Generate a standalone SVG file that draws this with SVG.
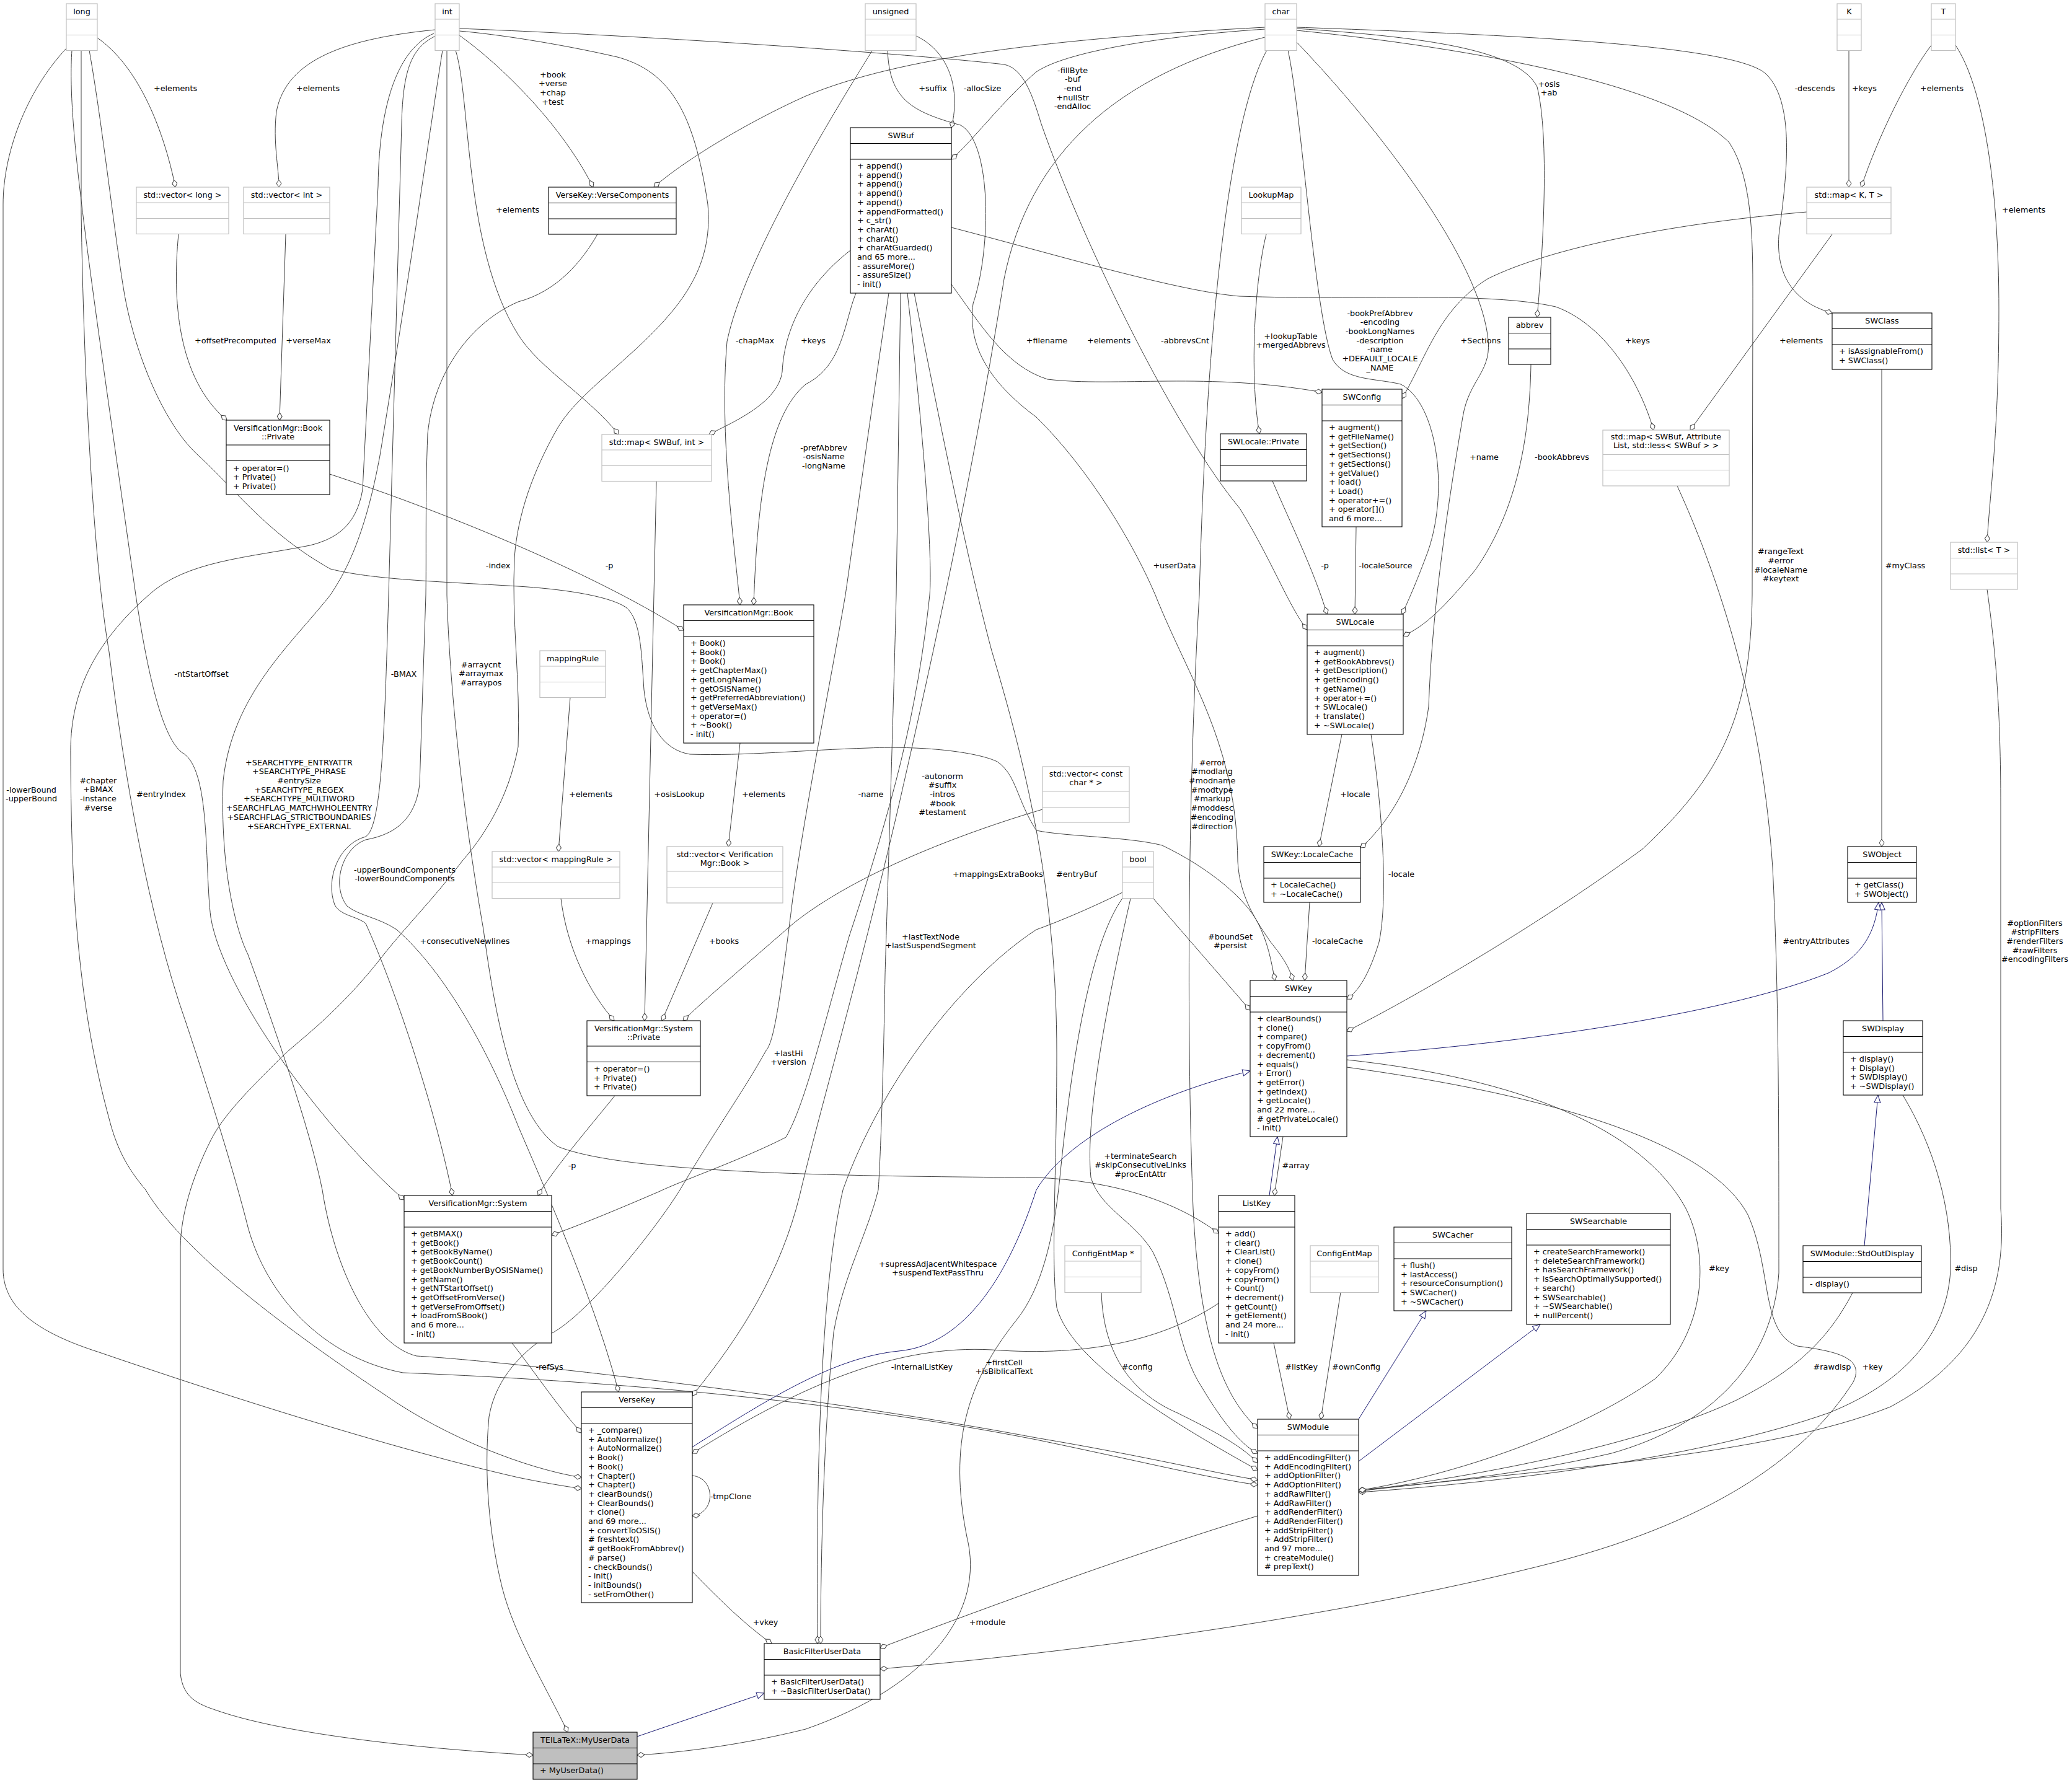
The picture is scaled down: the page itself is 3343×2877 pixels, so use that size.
<svg xmlns="http://www.w3.org/2000/svg" width="3343" height="2877" viewBox="0 0 3343 2877">
<defs>
<marker id="d" viewBox="0 0 14 10" refX="13" refY="5" markerWidth="14" markerHeight="10" markerUnits="userSpaceOnUse" orient="auto"><path d="M1,5 L7,1 L13,5 L7,9 Z" fill="#fff" stroke="#404040"/></marker>
<marker id="t" viewBox="0 0 14 12" refX="13" refY="6" markerWidth="14" markerHeight="12" markerUnits="userSpaceOnUse" orient="auto"><path d="M1,1 L13,6 L1,11 Z" fill="#fff" stroke="#191970"/></marker>
</defs>
<style>
text{font-family:"DejaVu Sans","Liberation Sans",sans-serif;font-size:12.8px;fill:#000}
.h{text-anchor:middle}
.g rect{fill:#fff;stroke:#bfbfbf;stroke-width:1.2}
.g path{fill:none;stroke:#bfbfbf;stroke-width:1.2}
.n rect{fill:#fff;stroke:#000;stroke-width:1.1}
.n path{fill:none;stroke:#000;stroke-width:1.1}
.f rect{fill:#bfbfbf}
#edges path{fill:none;stroke:#404040;stroke-width:1;marker-end:url(#d)}
#edges path.i{stroke:#191970;marker-end:url(#t)}
#labels text{text-anchor:middle}
</style>
<rect x="0" y="0" width="3343" height="2877" fill="#fff"/>
<g id="edges">
<path d="M157,61 C220,105 262,200 283,302"/>
<path d="M702,48 C560,62 462,95 446,180 C440,230 450,270 450,302"/>
<path d="M288,378 C278,480 285,610 366,678"/>
<path d="M461,378 L451,678"/>
<path d="M741,57 C795,95 900,190 957,302"/>
<path d="M2041,44 C1700,62 1450,92 1300,155 C1200,200 1100,262 1055,302"/>
<path d="M735,81 C760,160 748,400 836,540 C870,595 950,640 998,701"/>
<path d="M1372,404 C1310,452 1266,520 1262,600 C1255,650 1185,680 1144,701"/>
<path d="M1478,58 C1525,80 1552,135 1535,206"/>
<path d="M2041,47 C1900,56 1725,80 1672,116 C1620,160 1565,232 1535,257"/>
<path d="M1407,82 C1340,190 1200,420 1173,551 C1160,700 1185,880 1194,976"/>
<path d="M1381,473 C1362,520 1360,590 1300,620 C1240,670 1222,800 1216,976"/>
<path d="M532,765 C700,820 950,920 1103,1017"/>
<path d="M920,1125 L901,1374"/>
<path d="M1194,1199 L1175,1366"/>
<path d="M905,1450 C915,1530 950,1600 991,1647"/>
<path d="M1059,776 L1040,1647"/>
<path d="M1150,1457 L1068,1647"/>
<path d="M1682,1306 C1550,1345 1380,1410 1280,1490 C1200,1560 1140,1610 1102,1647"/>
<path d="M992,1768 C950,1820 890,1890 868,1929"/>
<path d="M116,81 C108,200 140,400 219,960 C240,1100 265,1200 298,1217 C340,1250 330,1400 340,1480 C360,1600 520,1820 652,1936"/>
<path d="M705,57 C665,75 650,110 648,200 L627,960 C620,1200 615,1335 590,1350 C545,1362 525,1420 540,1460 C550,1478 575,1478 590,1490 C640,1600 705,1800 730,1929"/>
<path d="M721,81 L721,960 C725,1100 745,1300 780,1500 C800,1650 830,1800 900,1850 C1000,1890 1300,1898 1672,1900 C1800,1905 1900,1940 1966,1990"/>
<path d="M700,54 C650,75 612,150 610,300 L585,790 C575,850 540,870 500,880 C400,900 300,905 240,960 C150,1040 112,1120 114,1220 C115,1400 120,1600 176,1805 C190,1860 210,1890 235,1920 C300,2030 500,2170 620,2250 C720,2320 850,2370 938,2384"/>
<path d="M107,78 C40,150 5,250 5,330 L5,2048 C5,2110 60,2150 160,2182 C300,2230 600,2330 836,2384 C880,2393 910,2398 938,2402"/>
<path d="M131,81 L131,343 C135,600 150,900 176,1052 C200,1250 240,1480 300,1650 C340,1770 380,1900 400,1980 C430,2090 520,2190 650,2215 C900,2225 1300,2250 1672,2323 C1850,2360 1950,2385 2029,2396"/>
<path d="M714,81 C695,200 660,450 613,735 C590,860 560,920 533,960 C470,1040 375,1120 360,1260 C355,1400 380,1500 400,1540 C440,1650 500,1820 520,1920 C540,2050 600,2170 672,2188 C800,2195 1300,2250 1672,2320 C1850,2350 1950,2375 2029,2388"/>
<path d="M741,46 C1100,60 1500,90 1620,104 C1650,110 1665,150 1680,200 C1750,400 1900,700 2000,820 C2050,900 2080,980 2109,1016"/>
<path d="M2044,81 C2000,160 1950,400 1935,960 C1915,1300 1915,1700 1925,1950 C1935,2150 1970,2250 2029,2305"/>
<path d="M1432,81 C1435,160 1470,180 1550,202 C1600,230 1600,400 1570,490 C1560,560 1600,620 1672,673 C1760,760 1830,880 1864,960 C1920,1100 1995,1200 1997,1390 C2000,1450 2030,1490 2050,1520 C2070,1545 2080,1560 2086,1582"/>
<path d="M1535,459 C1580,520 1620,590 1690,612 C1800,625 1950,600 2133,633"/>
<path d="M1535,367 C1700,410 1900,470 2000,478 C2200,485 2400,470 2510,495 C2580,520 2640,600 2668,694"/>
<path d="M2915,342 C2700,360 2500,400 2400,450 C2320,500 2300,580 2262,643"/>
<path d="M2956,378 L2727,694"/>
<path d="M2983,81 L2983,302"/>
<path d="M3116,73 C3080,120 3030,220 3003,302"/>
<path d="M3155,73 C3200,140 3225,300 3225,500 C3225,700 3210,800 3206,875"/>
<path d="M2092,44 C2400,55 2800,70 2850,120 C2900,170 2880,300 2870,380 C2865,450 2900,490 2956,505"/>
<path d="M2092,46 C2300,60 2450,80 2480,140 C2500,220 2490,400 2480,512"/>
<path d="M2092,49 C2400,80 2700,140 2790,230 C2830,290 2828,400 2828,500 L2827,960 C2825,1150 2780,1250 2650,1370 C2500,1480 2300,1600 2173,1664"/>
<path d="M2078,81 C2100,180 2120,500 2150,580 C2170,615 2220,610 2260,620 C2320,650 2340,800 2300,900 C2285,940 2272,970 2262,991"/>
<path d="M2091,67 C2200,180 2380,400 2400,540 C2410,600 2370,610 2360,673 C2330,850 2310,1000 2305,1140 C2290,1250 2240,1330 2195,1368"/>
<path d="M2470,588 C2468,700 2450,820 2380,920 C2330,980 2300,1010 2264,1026"/>
<path d="M2043,378 C2025,450 2015,600 2032,700"/>
<path d="M2053,776 C2080,840 2120,920 2141,991"/>
<path d="M2188,850 L2186,991"/>
<path d="M2165,1185 L2128,1366"/>
<path d="M2212,1185 C2230,1300 2240,1450 2225,1520 C2210,1570 2192,1600 2173,1612"/>
<path d="M2113,1456 L2105,1582"/>
<path d="M1861,1450 L2017,1630"/>
<path d="M3036,596 L3036,1366"/>
<path d="M3206,951 C3220,1050 3228,1150 3228,1300 L3228,1950 C3240,2100 3180,2200 3050,2270 C2850,2350 2500,2370 2192,2406"/>
<path d="M2706,784 C2750,880 2840,1100 2860,1400 C2870,1600 2870,1800 2870,2054 C2860,2200 2760,2300 2600,2345 C2450,2380 2300,2395 2192,2404"/>
<path d="M3070,1767 C3120,1850 3150,1950 3147,2050 C3140,2170 3050,2240 2950,2280 C2750,2350 2450,2390 2192,2408"/>
<path d="M2989,2086 C2950,2160 2900,2210 2800,2260 C2650,2330 2400,2380 2192,2406"/>
<path class="i" d="M3008,2010 L3030,1767"/>
<path class="i" d="M3038,1647 L3036,1456"/>
<path class="i" d="M2173,1704 C2500,1680 2800,1630 2950,1570 C3010,1540 3025,1500 3031,1456"/>
<path d="M2173,1710 C2450,1740 2650,1820 2720,1950 C2760,2030 2750,2150 2670,2225 C2550,2310 2350,2380 2192,2405"/>
<path d="M2173,1722 C2450,1760 2750,1830 2820,1960 C2860,2050 2840,2150 2900,2172 C2960,2180 3010,2190 2990,2230 C2920,2340 2780,2450 2508,2521 C2200,2600 1800,2660 1420,2693"/>
<path class="i" d="M2048,1929 L2061,1834"/>
<path d="M2070,1834 L2056,1929"/>
<path class="i" d="M1117,2335 C1250,2250 1350,2190 1450,2180 C1560,2170 1630,2050 1672,1920 C1720,1840 1850,1770 2017,1728"/>
<path d="M1966,2103 C1880,2160 1760,2190 1600,2178 C1450,2170 1300,2230 1117,2345"/>
<path d="M2055,2167 L2081,2290"/>
<path d="M1777,2085 C1780,2190 1830,2250 1900,2280 C1950,2305 2000,2330 2029,2360"/>
<path d="M2163,2085 L2131,2290"/>
<path class="i" d="M2192,2290 L2301,2115"/>
<path class="i" d="M2192,2358 L2485,2137"/>
<path d="M1824,1450 C1790,1600 1750,1800 1760,1900 C1775,1950 1830,1970 1860,2020 C1900,2100 1900,2180 1940,2240 C1970,2290 2000,2330 2029,2345"/>
<path d="M1811,1440 C1750,1470 1700,1490 1672,1500 C1550,1580 1420,1750 1360,1920 C1330,2050 1316,2300 1319,2652"/>
<path d="M1812,1448 C1760,1520 1730,1700 1710,1900 C1700,2000 1680,2080 1640,2130 C1560,2230 1530,2330 1560,2480 C1590,2600 1500,2720 1300,2790 C1200,2815 1100,2828 1028,2832"/>
<path d="M2029,2446 C1850,2500 1600,2590 1420,2659"/>
<path d="M1117,2536 C1160,2580 1200,2620 1245,2652"/>
<path d="M1117,2381 C1155,2385 1155,2442 1117,2446"/>
<path class="i" d="M1028,2802 L1233,2732"/>
<path d="M826,2167 C860,2210 900,2270 938,2312"/>
<path d="M964,378 C940,420 900,470 836,487 C760,520 700,600 690,700 C686,800 688,900 687,960 L677,1266 C670,1320 640,1346 590,1355 C550,1370 535,1430 560,1462 C580,1478 610,1480 640,1500 C720,1570 790,1700 836,1817 C880,1920 960,2100 998,2246"/>
<path d="M2041,60 C1800,120 1660,250 1620,450 C1580,700 1530,950 1450,1300 C1380,1600 1320,1800 1290,1930 C1260,2050 1200,2150 1117,2252"/>
<path d="M1475,473 C1520,700 1560,900 1600,1050 C1660,1250 1705,1450 1705,1700 C1705,1900 1695,2030 1705,2110 C1730,2200 1900,2300 2029,2372"/>
<path d="M1464,473 C1490,700 1505,900 1500,960 C1480,1150 1440,1300 1370,1511 C1330,1650 1300,1780 1268,1835 C1200,1870 1100,1905 1065,1922 C1000,1950 940,1975 890,1993"/>
<path d="M1453,473 L1446,960 C1440,1200 1430,1500 1428,1572 C1425,1750 1420,1880 1417,1920 C1400,1990 1360,2060 1345,2150 C1330,2300 1324,2500 1324,2652"/>
<path d="M1434,473 C1400,700 1380,850 1364,960 C1340,1100 1300,1300 1279,1450 C1260,1600 1250,1680 1236,1695 C1200,1760 1150,1830 1097,1920 C1060,1980 950,2120 889,2152 C850,2175 800,2220 789,2286 C780,2380 790,2480 810,2561 C830,2640 880,2720 916,2795"/>
<path d="M741,50 C800,55 900,70 996,92 C1080,115 1120,180 1142,330 C1150,420 1110,480 1050,540 C990,600 930,640 900,690 C860,760 835,830 830,900 C825,1000 840,1100 836,1205 C820,1290 780,1350 746,1389 C700,1450 650,1500 613,1548 C540,1640 480,1680 453,1707 C400,1760 360,1800 340,1840 C310,1900 292,1960 291,2011 L291,2700 C295,2740 320,2750 350,2760 C450,2795 650,2820 860,2832"/>
<path d="M144,81 C165,200 185,380 200,470 C215,560 260,680 320,735 C380,790 430,860 533,918 C600,935 700,938 836,946 C900,950 980,960 1010,980 C1035,1000 1035,1060 1039,1113 C1045,1170 1070,1210 1113,1217 C1200,1220 1300,1210 1400,1207 C1500,1203 1580,1215 1609,1229 C1640,1250 1640,1290 1672,1340 C1720,1350 1820,1350 1875,1364 C1950,1400 2010,1450 2030,1490 C2045,1520 2050,1545 2057,1582"/>
</g>
<g id="labels">
<text x="283" y="146.6">+elements</text>
<text x="513" y="146.6">+elements</text>
<text x="892" y="124.6">+book<tspan x="892" dy="14.7">+verse</tspan><tspan x="892" dy="14.7">+chap</tspan><tspan x="892" dy="14.7">+test</tspan></text>
<text x="1505" y="146.6">+suffix</text>
<text x="1585" y="146.6">-allocSize</text>
<text x="1730.6" y="117.6">-fillByte<tspan x="1730.6" dy="14.7">-buf</tspan><tspan x="1730.6" dy="14.7">-end</tspan><tspan x="1730.6" dy="14.7">+nullStr</tspan><tspan x="1730.6" dy="14.7">-endAlloc</tspan></text>
<text x="2928" y="146.6">-descends</text>
<text x="3008" y="146.6">+keys</text>
<text x="3133" y="146.6">+elements</text>
<text x="2499" y="139.6">+osis<tspan x="2499" dy="14.7">+ab</tspan></text>
<text x="835" y="342.6">+elements</text>
<text x="3265" y="342.6">+elements</text>
<text x="380" y="553.6">+offsetPrecomputed</text>
<text x="497.5" y="553.6">+verseMax</text>
<text x="1218" y="553.6">-chapMax</text>
<text x="1312" y="553.6">+keys</text>
<text x="1689" y="553.6">+filename</text>
<text x="1789" y="553.6">+elements</text>
<text x="1912" y="553.6">-abbrevsCnt</text>
<text x="2082.5" y="546.6">+lookupTable<tspan x="2082.5" dy="14.7">+mergedAbbrevs</tspan></text>
<text x="2226.5" y="509.6">-bookPrefAbbrev<tspan x="2226.5" dy="14.7">-encoding</tspan><tspan x="2226.5" dy="14.7">-bookLongNames</tspan><tspan x="2226.5" dy="14.7">-description</tspan><tspan x="2226.5" dy="14.7">-name</tspan><tspan x="2226.5" dy="14.7">+DEFAULT_LOCALE</tspan><tspan x="2226.5" dy="14.7">_NAME</tspan></text>
<text x="2389" y="553.6">+Sections</text>
<text x="2642" y="553.6">+keys</text>
<text x="2906" y="553.6">+elements</text>
<text x="1329" y="726.6">-prefAbbrev<tspan x="1329" dy="14.7">-osisName</tspan><tspan x="1329" dy="14.7">-longName</tspan></text>
<text x="2394.5" y="741.6">+name</text>
<text x="2520" y="741.6">-bookAbbrevs</text>
<text x="2873" y="894.2">#rangeText<tspan x="2873" dy="14.7">#error</tspan><tspan x="2873" dy="14.7">#localeName</tspan><tspan x="2873" dy="14.7">#keytext</tspan></text>
<text x="803.6" y="916.6">-index</text>
<text x="983" y="916.6">-p</text>
<text x="1895" y="916.6">+userData</text>
<text x="2137.5" y="916.6">-p</text>
<text x="2235.5" y="916.6">-localeSource</text>
<text x="3074" y="916.6">#myClass</text>
<text x="325" y="1091.6">-ntStartOffset</text>
<text x="651.5" y="1091.6">-BMAX</text>
<text x="776" y="1076.6">#arraycnt<tspan x="776" dy="14.7">#arraymax</tspan><tspan x="776" dy="14.7">#arraypos</tspan></text>
<text x="1955.6" y="1234.6">#error<tspan x="1955.6" dy="14.7">#modlang</tspan><tspan x="1955.6" dy="14.7">#modname</tspan><tspan x="1955.6" dy="14.7">#modtype</tspan><tspan x="1955.6" dy="14.7">#markup</tspan><tspan x="1955.6" dy="14.7">#moddesc</tspan><tspan x="1955.6" dy="14.7">#encoding</tspan><tspan x="1955.6" dy="14.7">#direction</tspan></text>
<text x="482.5" y="1234.6">+SEARCHTYPE_ENTRYATTR<tspan x="482.5" dy="14.7">+SEARCHTYPE_PHRASE</tspan><tspan x="482.5" dy="14.7">#entrySize</tspan><tspan x="482.5" dy="14.7">+SEARCHTYPE_REGEX</tspan><tspan x="482.5" dy="14.7">+SEARCHTYPE_MULTIWORD</tspan><tspan x="482.5" dy="14.7">+SEARCHFLAG_MATCHWHOLEENTRY</tspan><tspan x="482.5" dy="14.7">+SEARCHFLAG_STRICTBOUNDARIES</tspan><tspan x="482.5" dy="14.7">+SEARCHTYPE_EXTERNAL</tspan></text>
<text x="1520.6" y="1256.6">-autonorm<tspan x="1520.6" dy="14.7">#suffix</tspan><tspan x="1520.6" dy="14.7">-intros</tspan><tspan x="1520.6" dy="14.7">#book</tspan><tspan x="1520.6" dy="14.7">#testament</tspan></text>
<text x="50.6" y="1278.6">-lowerBound<tspan x="50.6" dy="14.7">-upperBound</tspan></text>
<text x="158.4" y="1263.6">#chapter<tspan x="158.4" dy="14.7">+BMAX</tspan><tspan x="158.4" dy="14.7">-instance</tspan><tspan x="158.4" dy="14.7">#verse</tspan></text>
<text x="260" y="1285.6">#entryIndex</text>
<text x="953" y="1285.6">+elements</text>
<text x="1096" y="1285.6">+osisLookup</text>
<text x="1232" y="1285.6">+elements</text>
<text x="1405" y="1285.6">-name</text>
<text x="2186.5" y="1285.6">+locale</text>
<text x="653" y="1407.6">-upperBoundComponents<tspan x="653" dy="14.7">-lowerBoundComponents</tspan></text>
<text x="1610" y="1414.6">+mappingsExtraBooks</text>
<text x="1737" y="1414.6">#entryBuf</text>
<text x="2261" y="1414.6">-locale</text>
<text x="981" y="1522.6">+mappings</text>
<text x="1168" y="1522.6">+books</text>
<text x="1501.5" y="1515.6">+lastTextNode<tspan x="1501.5" dy="14.7">+lastSuspendSegment</tspan></text>
<text x="1985" y="1515.6">#boundSet<tspan x="1985" dy="14.7">#persist</tspan></text>
<text x="2158" y="1522.6">-localeCache</text>
<text x="2930" y="1522.6">#entryAttributes</text>
<text x="750" y="1522.6">+consecutiveNewlines</text>
<text x="3283" y="1493.6">#optionFilters<tspan x="3283" dy="14.7">#stripFilters</tspan><tspan x="3283" dy="14.7">#renderFilters</tspan><tspan x="3283" dy="14.7">#rawFilters</tspan><tspan x="3283" dy="14.7">#encodingFilters</tspan></text>
<text x="1272" y="1703.6">+lastHi<tspan x="1272" dy="14.7">+version</tspan></text>
<text x="1840" y="1869.6">+terminateSearch<tspan x="1840" dy="14.7">#skipConsecutiveLinks</tspan><tspan x="1840" dy="14.7">#procEntAttr</tspan></text>
<text x="923" y="1884.6">-p</text>
<text x="2090.6" y="1884.6">#array</text>
<text x="1513" y="2043.6">+supressAdjacentWhitespace<tspan x="1513" dy="14.7">+suspendTextPassThru</tspan></text>
<text x="2773.5" y="2050.6">#key</text>
<text x="3172" y="2050.6">#disp</text>
<text x="886.6" y="2209.6">-refSys</text>
<text x="1487.5" y="2209.6">-internalListKey</text>
<text x="1620" y="2202.6">+firstCell<tspan x="1620" dy="14.7">+isBiblicalText</tspan></text>
<text x="1834.6" y="2209.6">#config</text>
<text x="2099.6" y="2209.6">#listKey</text>
<text x="2188" y="2209.6">#ownConfig</text>
<text x="2956" y="2209.6">#rawdisp</text>
<text x="3021" y="2209.6">+key</text>
<text x="1179" y="2418.6">-tmpClone</text>
<text x="1235" y="2621.6">+vkey</text>
<text x="1593" y="2621.6">+module</text>
</g>
<g id="n_long" class="g"><rect x="107" y="6" width="50" height="75.5"/><path d="M107,31H157M107,56.5H157"/><text class="h" x="132" y="23.3">long</text></g>
<g id="n_int" class="g"><rect x="702" y="6" width="39" height="75.5"/><path d="M702,31H741M702,56.5H741"/><text class="h" x="721.5" y="23.3">int</text></g>
<g id="n_unsigned" class="g"><rect x="1396" y="6" width="82" height="75.5"/><path d="M1396,31H1478M1396,56.5H1478"/><text class="h" x="1437" y="23.3">unsigned</text></g>
<g id="n_char" class="g"><rect x="2041" y="6" width="51" height="75.5"/><path d="M2041,31H2092M2041,56.5H2092"/><text class="h" x="2066.5" y="23.3">char</text></g>
<g id="n_K" class="g"><rect x="2964" y="6" width="39" height="75.5"/><path d="M2964,31H3003M2964,56.5H3003"/><text class="h" x="2983.5" y="23.3">K</text></g>
<g id="n_T" class="g"><rect x="3116" y="6" width="39" height="75.5"/><path d="M3116,31H3155M3116,56.5H3155"/><text class="h" x="3135.5" y="23.3">T</text></g>
<g id="n_vector_long" class="g"><rect x="220" y="302" width="149" height="75.5"/><path d="M220,327H369M220,352.5H369"/><text class="h" x="294.5" y="319.3">std::vector&lt; long &gt;</text></g>
<g id="n_vector_int" class="g"><rect x="393" y="302" width="139" height="75.5"/><path d="M393,327H532M393,352.5H532"/><text class="h" x="462.5" y="319.3">std::vector&lt; int &gt;</text></g>
<g id="n_LookupMap" class="g"><rect x="2003" y="302" width="96" height="75.5"/><path d="M2003,327H2099M2003,352.5H2099"/><text class="h" x="2051" y="319.3">LookupMap</text></g>
<g id="n_map_K_T" class="g"><rect x="2915" y="302" width="136" height="75.5"/><path d="M2915,327H3051M2915,352.5H3051"/><text class="h" x="2983" y="319.3">std::map&lt; K, T &gt;</text></g>
<g id="n_map_SWBuf_int" class="g"><rect x="971" y="701" width="177" height="75.5"/><path d="M971,726H1148M971,751.5H1148"/><text class="h" x="1059.5" y="718.3">std::map&lt; SWBuf, int &gt;</text></g>
<g id="n_mappingRule" class="g"><rect x="871" y="1050" width="106" height="75.5"/><path d="M871,1075H977M871,1100.5H977"/><text class="h" x="924" y="1067.3">mappingRule</text></g>
<g id="n_vector_mappingRule" class="g"><rect x="794" y="1374" width="206" height="75.5"/><path d="M794,1399H1000M794,1424.5H1000"/><text class="h" x="897" y="1391.3">std::vector&lt; mappingRule &gt;</text></g>
<g id="n_bool" class="g"><rect x="1811" y="1374" width="50" height="75.5"/><path d="M1811,1399H1861M1811,1424.5H1861"/><text class="h" x="1836" y="1391.3">bool</text></g>
<g id="n_list_T" class="g"><rect x="3147" y="875" width="108" height="76"/><path d="M3147,900.5H3255M3147,926H3255"/><text class="h" x="3201" y="892.3">std::list&lt; T &gt;</text></g>
<g id="n_ConfigEntMap_ptr" class="g"><rect x="1718" y="2010" width="123" height="75.5"/><path d="M1718,2035H1841M1718,2060.5H1841"/><text class="h" x="1779.5" y="2027.3">ConfigEntMap *</text></g>
<g id="n_ConfigEntMap" class="g"><rect x="2114" y="2010" width="110" height="75.5"/><path d="M2114,2035H2224M2114,2060.5H2224"/><text class="h" x="2169" y="2027.3">ConfigEntMap</text></g>
<g id="n_map_SWBuf_AttributeList" class="g"><rect x="2586" y="694" width="204" height="90"/><path d="M2586,733.5H2790M2586,758.5H2790"/><text class="h" x="2688" y="708.6">std::map&lt; SWBuf, Attribute<tspan x="2688" dy="14.7">List, std::less&lt; SWBuf &gt; &gt;</tspan></text></g>
<g id="n_vector_const_char" class="g"><rect x="1682" y="1237" width="140" height="90"/><path d="M1682,1277H1822M1682,1302.5H1822"/><text class="h" x="1752" y="1252.6">std::vector&lt; const<tspan x="1752" dy="14.7">char * &gt;</tspan></text></g>
<g id="n_vector_Book" class="g"><rect x="1076" y="1366" width="187" height="91"/><path d="M1076,1406H1263M1076,1431.5H1263"/><text class="h" x="1169.5" y="1382.6">std::vector&lt; Verification<tspan x="1169.5" dy="14.7">Mgr::Book &gt;</tspan></text></g>
<g id="n_VerseComponents" class="n"><rect x="885" y="302" width="206" height="76"/><path d="M885,327.5H1091M885,353H1091"/><text class="h" x="988" y="319.3">VerseKey::VerseComponents</text></g>
<g id="n_abbrev" class="n"><rect x="2434" y="512" width="68" height="76"/><path d="M2434,537.5H2502M2434,563H2502"/><text class="h" x="2468" y="529.3">abbrev</text></g>
<g id="n_SWLocale_Private" class="n"><rect x="1969" y="700" width="139" height="76"/><path d="M1969,725.5H2108M1969,751H2108"/><text class="h" x="2038.5" y="717.3">SWLocale::Private</text></g>
<g id="n_SWBuf" class="n"><rect x="1372" y="206" width="163" height="267"/><path d="M1372,231.5H1535M1372,257H1535"/><text class="h" x="1453.5" y="223.3">SWBuf</text><text x="1383" y="272">+ append()<tspan x="1383" dy="14.7">+ append()</tspan><tspan x="1383" dy="14.7">+ append()</tspan><tspan x="1383" dy="14.7">+ append()</tspan><tspan x="1383" dy="14.7">+ append()</tspan><tspan x="1383" dy="14.7">+ appendFormatted()</tspan><tspan x="1383" dy="14.7">+ c_str()</tspan><tspan x="1383" dy="14.7">+ charAt()</tspan><tspan x="1383" dy="14.7">+ charAt()</tspan><tspan x="1383" dy="14.7">+ charAtGuarded()</tspan><tspan x="1383" dy="14.7">and 65 more...</tspan><tspan x="1383" dy="14.7">- assureMore()</tspan><tspan x="1383" dy="14.7">- assureSize()</tspan><tspan x="1383" dy="14.7">- init()</tspan></text></g>
<g id="n_SWClass" class="n"><rect x="2956" y="505" width="161" height="91"/><path d="M2956,530.5H3117M2956,556H3117"/><text class="h" x="3036.5" y="522.3">SWClass</text><text x="2967" y="571">+ isAssignableFrom()<tspan x="2967" dy="14.7">+ SWClass()</tspan></text></g>
<g id="n_SWConfig" class="n"><rect x="2133" y="628" width="129" height="222"/><path d="M2133,653.5H2262M2133,679H2262"/><text class="h" x="2197.5" y="645.3">SWConfig</text><text x="2144" y="694">+ augment()<tspan x="2144" dy="14.7">+ getFileName()</tspan><tspan x="2144" dy="14.7">+ getSection()</tspan><tspan x="2144" dy="14.7">+ getSections()</tspan><tspan x="2144" dy="14.7">+ getSections()</tspan><tspan x="2144" dy="14.7">+ getValue()</tspan><tspan x="2144" dy="14.7">+ load()</tspan><tspan x="2144" dy="14.7">+ Load()</tspan><tspan x="2144" dy="14.7">+ operator+=()</tspan><tspan x="2144" dy="14.7">+ operator[]()</tspan><tspan x="2144" dy="14.7">and 6 more...</tspan></text></g>
<g id="n_Book_Private" class="n"><rect x="365" y="678" width="167" height="120"/><path d="M365,718H532M365,743.5H532"/><text class="h" x="448.5" y="694.6">VersificationMgr::Book<tspan x="448.5" dy="14.7">::Private</tspan></text><text x="376" y="759.5">+ operator=()<tspan x="376" dy="14.7">+ Private()</tspan><tspan x="376" dy="14.7">+ Private()</tspan></text></g>
<g id="n_Book" class="n"><rect x="1103" y="976" width="210" height="223"/><path d="M1103,1001.5H1313M1103,1027H1313"/><text class="h" x="1208" y="993.3">VersificationMgr::Book</text><text x="1114" y="1042">+ Book()<tspan x="1114" dy="14.7">+ Book()</tspan><tspan x="1114" dy="14.7">+ Book()</tspan><tspan x="1114" dy="14.7">+ getChapterMax()</tspan><tspan x="1114" dy="14.7">+ getLongName()</tspan><tspan x="1114" dy="14.7">+ getOSISName()</tspan><tspan x="1114" dy="14.7">+ getPreferredAbbreviation()</tspan><tspan x="1114" dy="14.7">+ getVerseMax()</tspan><tspan x="1114" dy="14.7">+ operator=()</tspan><tspan x="1114" dy="14.7">+ ~Book()</tspan><tspan x="1114" dy="14.7">- init()</tspan></text></g>
<g id="n_System_Private" class="n"><rect x="947" y="1647" width="183" height="121"/><path d="M947,1688H1130M947,1713.5H1130"/><text class="h" x="1038.5" y="1663.6">VersificationMgr::System<tspan x="1038.5" dy="14.7">::Private</tspan></text><text x="958" y="1729">+ operator=()<tspan x="958" dy="14.7">+ Private()</tspan><tspan x="958" dy="14.7">+ Private()</tspan></text></g>
<g id="n_SWLocale" class="n"><rect x="2109" y="991" width="155" height="194"/><path d="M2109,1016.5H2264M2109,1042H2264"/><text class="h" x="2186.5" y="1008.3">SWLocale</text><text x="2120" y="1057">+ augment()<tspan x="2120" dy="14.7">+ getBookAbbrevs()</tspan><tspan x="2120" dy="14.7">+ getDescription()</tspan><tspan x="2120" dy="14.7">+ getEncoding()</tspan><tspan x="2120" dy="14.7">+ getName()</tspan><tspan x="2120" dy="14.7">+ operator+=()</tspan><tspan x="2120" dy="14.7">+ SWLocale()</tspan><tspan x="2120" dy="14.7">+ translate()</tspan><tspan x="2120" dy="14.7">+ ~SWLocale()</tspan></text></g>
<g id="n_LocaleCache" class="n"><rect x="2039" y="1366" width="156" height="90"/><path d="M2039,1391.5H2195M2039,1417H2195"/><text class="h" x="2117" y="1383.3">SWKey::LocaleCache</text><text x="2050" y="1432">+ LocaleCache()<tspan x="2050" dy="14.7">+ ~LocaleCache()</tspan></text></g>
<g id="n_SWObject" class="n"><rect x="2981" y="1366" width="111" height="90"/><path d="M2981,1391.5H3092M2981,1417H3092"/><text class="h" x="3036.5" y="1383.3">SWObject</text><text x="2992" y="1432">+ getClass()<tspan x="2992" dy="14.7">+ SWObject()</tspan></text></g>
<g id="n_SWKey" class="n"><rect x="2017" y="1582" width="156" height="252"/><path d="M2017,1607.5H2173M2017,1633H2173"/><text class="h" x="2095" y="1599.3">SWKey</text><text x="2028" y="1648">+ clearBounds()<tspan x="2028" dy="14.7">+ clone()</tspan><tspan x="2028" dy="14.7">+ compare()</tspan><tspan x="2028" dy="14.7">+ copyFrom()</tspan><tspan x="2028" dy="14.7">+ decrement()</tspan><tspan x="2028" dy="14.7">+ equals()</tspan><tspan x="2028" dy="14.7">+ Error()</tspan><tspan x="2028" dy="14.7">+ getError()</tspan><tspan x="2028" dy="14.7">+ getIndex()</tspan><tspan x="2028" dy="14.7">+ getLocale()</tspan><tspan x="2028" dy="14.7">and 22 more...</tspan><tspan x="2028" dy="14.7"># getPrivateLocale()</tspan><tspan x="2028" dy="14.7">- init()</tspan></text></g>
<g id="n_SWDisplay" class="n"><rect x="2974" y="1647" width="128" height="120"/><path d="M2974,1672.5H3102M2974,1698H3102"/><text class="h" x="3038" y="1664.3">SWDisplay</text><text x="2985" y="1713">+ display()<tspan x="2985" dy="14.7">+ Display()</tspan><tspan x="2985" dy="14.7">+ SWDisplay()</tspan><tspan x="2985" dy="14.7">+ ~SWDisplay()</tspan></text></g>
<g id="n_System" class="n"><rect x="652" y="1929" width="238" height="238"/><path d="M652,1954.5H890M652,1980H890"/><text class="h" x="771" y="1946.3">VersificationMgr::System</text><text x="663" y="1995">+ getBMAX()<tspan x="663" dy="14.7">+ getBook()</tspan><tspan x="663" dy="14.7">+ getBookByName()</tspan><tspan x="663" dy="14.7">+ getBookCount()</tspan><tspan x="663" dy="14.7">+ getBookNumberByOSISName()</tspan><tspan x="663" dy="14.7">+ getName()</tspan><tspan x="663" dy="14.7">+ getNTStartOffset()</tspan><tspan x="663" dy="14.7">+ getOffsetFromVerse()</tspan><tspan x="663" dy="14.7">+ getVerseFromOffset()</tspan><tspan x="663" dy="14.7">+ loadFromSBook()</tspan><tspan x="663" dy="14.7">and 6 more...</tspan><tspan x="663" dy="14.7">- init()</tspan></text></g>
<g id="n_ListKey" class="n"><rect x="1966" y="1929" width="123" height="238"/><path d="M1966,1954.5H2089M1966,1980H2089"/><text class="h" x="2027.5" y="1946.3">ListKey</text><text x="1977" y="1995">+ add()<tspan x="1977" dy="14.7">+ clear()</tspan><tspan x="1977" dy="14.7">+ ClearList()</tspan><tspan x="1977" dy="14.7">+ clone()</tspan><tspan x="1977" dy="14.7">+ copyFrom()</tspan><tspan x="1977" dy="14.7">+ copyFrom()</tspan><tspan x="1977" dy="14.7">+ Count()</tspan><tspan x="1977" dy="14.7">+ decrement()</tspan><tspan x="1977" dy="14.7">+ getCount()</tspan><tspan x="1977" dy="14.7">+ getElement()</tspan><tspan x="1977" dy="14.7">and 24 more...</tspan><tspan x="1977" dy="14.7">- init()</tspan></text></g>
<g id="n_SWCacher" class="n"><rect x="2249" y="1980" width="190" height="135"/><path d="M2249,2005.5H2439M2249,2031H2439"/><text class="h" x="2344" y="1997.3">SWCacher</text><text x="2260" y="2046">+ flush()<tspan x="2260" dy="14.7">+ lastAccess()</tspan><tspan x="2260" dy="14.7">+ resourceConsumption()</tspan><tspan x="2260" dy="14.7">+ SWCacher()</tspan><tspan x="2260" dy="14.7">+ ~SWCacher()</tspan></text></g>
<g id="n_SWSearchable" class="n"><rect x="2463" y="1958" width="232" height="179"/><path d="M2463,1983.5H2695M2463,2009H2695"/><text class="h" x="2579" y="1975.3">SWSearchable</text><text x="2474" y="2024">+ createSearchFramework()<tspan x="2474" dy="14.7">+ deleteSearchFramework()</tspan><tspan x="2474" dy="14.7">+ hasSearchFramework()</tspan><tspan x="2474" dy="14.7">+ isSearchOptimallySupported()</tspan><tspan x="2474" dy="14.7">+ search()</tspan><tspan x="2474" dy="14.7">+ SWSearchable()</tspan><tspan x="2474" dy="14.7">+ ~SWSearchable()</tspan><tspan x="2474" dy="14.7">+ nullPercent()</tspan></text></g>
<g id="n_StdOutDisplay" class="n"><rect x="2909" y="2010" width="191" height="76"/><path d="M2909,2035.5H3100M2909,2061H3100"/><text class="h" x="3004.5" y="2027.3">SWModule::StdOutDisplay</text><text x="2920" y="2076">- display()</text></g>
<g id="n_SWModule" class="n"><rect x="2029" y="2290" width="163" height="252"/><path d="M2029,2315.5H2192M2029,2341H2192"/><text class="h" x="2110.5" y="2307.3">SWModule</text><text x="2040" y="2356">+ addEncodingFilter()<tspan x="2040" dy="14.7">+ AddEncodingFilter()</tspan><tspan x="2040" dy="14.7">+ addOptionFilter()</tspan><tspan x="2040" dy="14.7">+ AddOptionFilter()</tspan><tspan x="2040" dy="14.7">+ addRawFilter()</tspan><tspan x="2040" dy="14.7">+ AddRawFilter()</tspan><tspan x="2040" dy="14.7">+ addRenderFilter()</tspan><tspan x="2040" dy="14.7">+ AddRenderFilter()</tspan><tspan x="2040" dy="14.7">+ addStripFilter()</tspan><tspan x="2040" dy="14.7">+ AddStripFilter()</tspan><tspan x="2040" dy="14.7">and 97 more...</tspan><tspan x="2040" dy="14.7">+ createModule()</tspan><tspan x="2040" dy="14.7"># prepText()</tspan></text></g>
<g id="n_VerseKey" class="n"><rect x="938" y="2246" width="179" height="340"/><path d="M938,2271.5H1117M938,2297H1117"/><text class="h" x="1027.5" y="2263.3">VerseKey</text><text x="949" y="2312">+ _compare()<tspan x="949" dy="14.7">+ AutoNormalize()</tspan><tspan x="949" dy="14.7">+ AutoNormalize()</tspan><tspan x="949" dy="14.7">+ Book()</tspan><tspan x="949" dy="14.7">+ Book()</tspan><tspan x="949" dy="14.7">+ Chapter()</tspan><tspan x="949" dy="14.7">+ Chapter()</tspan><tspan x="949" dy="14.7">+ clearBounds()</tspan><tspan x="949" dy="14.7">+ ClearBounds()</tspan><tspan x="949" dy="14.7">+ clone()</tspan><tspan x="949" dy="14.7">and 69 more...</tspan><tspan x="949" dy="14.7">+ convertToOSIS()</tspan><tspan x="949" dy="14.7"># freshtext()</tspan><tspan x="949" dy="14.7"># getBookFromAbbrev()</tspan><tspan x="949" dy="14.7"># parse()</tspan><tspan x="949" dy="14.7">- checkBounds()</tspan><tspan x="949" dy="14.7">- init()</tspan><tspan x="949" dy="14.7">- initBounds()</tspan><tspan x="949" dy="14.7">- setFromOther()</tspan></text></g>
<g id="n_BasicFilterUserData" class="n"><rect x="1233" y="2652" width="187" height="90"/><path d="M1233,2677.5H1420M1233,2703H1420"/><text class="h" x="1326.5" y="2669.3">BasicFilterUserData</text><text x="1244" y="2718">+ BasicFilterUserData()<tspan x="1244" dy="14.7">+ ~BasicFilterUserData()</tspan></text></g>
<g id="n_MyUserData" class="n f"><rect x="860" y="2795" width="168" height="76"/><path d="M860,2820.5H1028M860,2846H1028"/><text class="h" x="944" y="2812.3">TEILaTeX::MyUserData</text><text x="871" y="2861">+ MyUserData()</text></g>
</svg>
